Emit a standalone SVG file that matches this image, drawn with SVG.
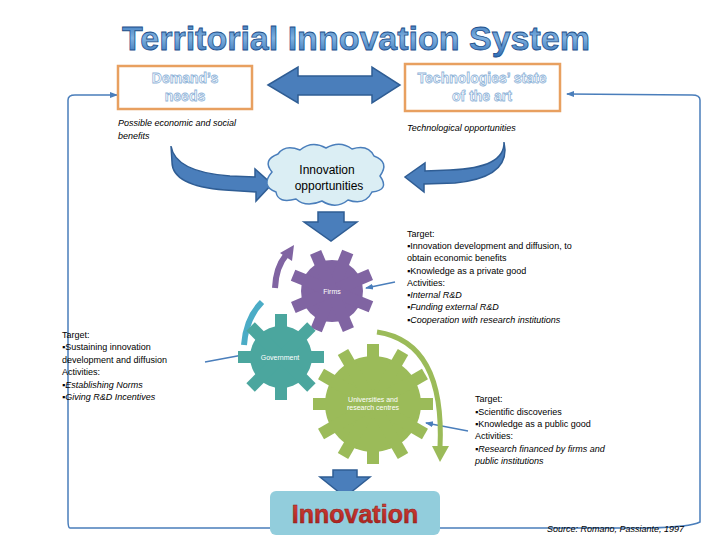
<svg xmlns="http://www.w3.org/2000/svg" xmlns:xlink="http://www.w3.org/1999/xlink" width="720" height="540" viewBox="0 0 720 540">
<defs>
<style>
.t{font-family:"Liberation Sans",Arial,sans-serif;font-size:9px;fill:#000}
.i{font-style:italic}
.big{fill:#4a7ebb;stroke:#2f5d94;stroke-width:1.5}
.ln{fill:none;stroke:#4a7ebb;stroke-width:1.5}
.hd{font-family:"Liberation Sans",Arial,sans-serif;font-weight:bold;font-size:14px;fill:#fff;stroke:#8fb4d9;stroke-width:0.8;text-anchor:middle}
.gl{font-family:"Liberation Sans",Arial,sans-serif;font-size:7px;fill:#fff;text-anchor:middle}
</style>
<marker id="ah" markerWidth="8" markerHeight="8" refX="7" refY="4" orient="auto" markerUnits="userSpaceOnUse"><path d="M0,1 L8,4 L0,7 Z" fill="#4a7ebb"/></marker>
<linearGradient id="tg" x1="0" y1="0" x2="0" y2="1"><stop offset="0" stop-color="#2e6db5"/><stop offset="0.5" stop-color="#7fb1e0"/><stop offset="1" stop-color="#2e6db5"/></linearGradient>
<linearGradient id="ig" x1="0" y1="0" x2="0" y2="1"><stop offset="0" stop-color="#d9443b"/><stop offset="1" stop-color="#a51e1a"/></linearGradient>
</defs>
<rect width="720" height="540" fill="#fff"/>
<text x="356" y="50" text-anchor="middle" font-family="Liberation Sans,Arial,sans-serif" font-weight="bold" font-size="34" fill="url(#tg)" stroke="#1e4f8a" stroke-width="0.8">Territorial Innovation System</text>

<g id="connectors">
<path class="ln" d="M270,528 L70,528 Q68,528 68,520 L68,100 Q68,95 75,95 L117,95" marker-end="url(#ah)"/>
<path class="ln" d="M440,528 L650,528 Q690,527 700,522 L700,100 Q700,95 692,95 L567,94" marker-end="url(#ah)"/>
<line x1="205" y1="362" x2="248" y2="354" stroke="#4a7ebb" stroke-width="1.5" marker-end="url(#ah)"/>
<line x1="395" y1="282" x2="366" y2="288" stroke="#4a7ebb" stroke-width="1.5" marker-end="url(#ah)"/>
<line x1="468" y1="431" x2="426" y2="423" stroke="#4a7ebb" stroke-width="1.5" marker-end="url(#ah)"/>
<path class="big" d="M268,85 L298,67 L298,76 L372,76 L372,67 L400,85 L372,103 L372,95 L298,95 L298,103 Z"/>
<path class="big" d="M171,146 Q175,172 230,176 L255,177 L255,169 L272,184 L256,201 L256,192 L225,190 Q172,186 172,162 Z"/>
<path class="big" d="M504,142 Q505,168 450,170 L425,171 L425,163 L405,177 L424,192 L424,184 L455,183 Q505,178 505,150 Z"/>
<path class="big" d="M318,212 L344,212 L344,222 L357,222 L331,241 L304,222 L318,222 Z"/>
<path class="big" d="M333,470 L357,470 L357,477 L370,477 L345,497 L320,477 L333,477 Z"/>
<path d="M275,288 Q276,266 287,254" fill="none" stroke="#8064a2" stroke-width="6"/>
<path d="M280,253 L294,245 L292,261 Z" fill="#8064a2"/>
<path d="M244,345 Q246,318 262,302" fill="none" stroke="#4bacc6" stroke-width="6"/>
<path d="M377,332 Q445,342 440,448" fill="none" stroke="#9bbb59" stroke-width="5"/>
<path d="M432,446 L440,462 L449,446 Z" fill="#9bbb59"/>
</g>

<g id="firms" fill="#8064a2">
<circle cx="332" cy="291" r="31"/>
<g transform="translate(332,291) rotate(22)"><rect x="-6" y="-42" width="12" height="84"/><rect x="-6" y="-42" width="12" height="84" transform="rotate(45)"/><rect x="-6" y="-42" width="12" height="84" transform="rotate(90)"/><rect x="-6" y="-42" width="12" height="84" transform="rotate(135)"/></g>
<text class="gl" x="332" y="294">Firms</text>
</g>
<g id="government" fill="#4ba69e">
<circle cx="281" cy="357" r="31"/>
<g transform="translate(281,357)"><rect x="-6" y="-43" width="12" height="86"/><rect x="-6" y="-43" width="12" height="86" transform="rotate(45)"/><rect x="-6" y="-43" width="12" height="86" transform="rotate(90)"/><rect x="-6" y="-43" width="12" height="86" transform="rotate(135)"/></g>
<text class="gl" x="280" y="360">Government</text>
</g>
<g id="universities" fill="#9bbb59">
<circle cx="373" cy="404" r="48"/>
<g transform="translate(373,404)"><rect x="-6" y="-60" width="12" height="120"/><rect x="-6" y="-60" width="12" height="120" transform="rotate(30)"/><rect x="-6" y="-60" width="12" height="120" transform="rotate(60)"/><rect x="-6" y="-60" width="12" height="120" transform="rotate(90)"/><rect x="-6" y="-60" width="12" height="120" transform="rotate(120)"/><rect x="-6" y="-60" width="12" height="120" transform="rotate(150)"/></g>
<text class="gl" x="373" y="402">Universities and</text>
<text class="gl" x="373" y="410">research centres</text>
</g>

<g id="demand">
<rect x="118" y="66" width="134" height="43" fill="#fff" stroke="#e8a060" stroke-width="2.5"/>
<text class="hd" x="185" y="83">Demand’s</text><text class="hd" x="185" y="101">needs</text>
</g>
<g id="tech">
<rect x="405" y="64" width="155" height="47" fill="#fff" stroke="#e8a060" stroke-width="2.5"/>
<text class="hd" x="482" y="83">Technologies’ state</text><text class="hd" x="482" y="101">of the art</text>
</g>
<text class="t i" x="118" y="126" font-size="10">Possible economic and social</text>
<text class="t i" x="118" y="139" font-size="10">benefits</text>
<text class="t i" x="407" y="131" font-size="10">Technological opportunities</text>

<g id="cloud">
<path d="M272,172 Q262,160 278,154 Q285,144 300,150 Q312,140 326,148 Q340,140 352,149 Q368,144 374,156 Q390,162 380,176 Q390,190 372,192 Q365,206 348,200 Q336,210 322,201 Q306,208 296,199 Q278,204 276,192 Q260,186 272,172 Z" fill="#dbeef4" stroke="#4a7ebb" stroke-width="1.5"/>
<text x="327" y="174" text-anchor="middle" font-family="Liberation Sans,Arial,sans-serif" font-size="12">Innovation</text>
<text x="329" y="190" text-anchor="middle" font-family="Liberation Sans,Arial,sans-serif" font-size="12">opportunities</text>
</g>

<g id="innovation">
<rect x="270" y="491" width="170" height="44" rx="6" fill="#92cddc"/>
<text x="355" y="523" text-anchor="middle" font-family="Liberation Sans,Arial,sans-serif" font-weight="bold" font-size="25" fill="url(#ig)" stroke="#8a1a16" stroke-width="0.5">Innovation</text>
</g>

<g class="t">
<text x="407" y="237">Target:</text>
<text x="407" y="249">▪Innovation development and diffusion, to</text>
<text x="407" y="261">obtain economic benefits</text>
<text x="407" y="274">▪Knowledge as a private good</text>
<text x="407" y="286">Activities:</text>
<text x="407" y="298">▪<tspan class="i">Internal R&amp;D</tspan></text>
<text x="407" y="310">▪<tspan class="i">Funding external R&amp;D</tspan></text>
<text x="407" y="323">▪<tspan class="i">Cooperation with research institutions</tspan></text>

<text x="62" y="338">Target:</text>
<text x="62" y="350">▪Sustaining innovation</text>
<text x="62" y="363">development and diffusion</text>
<text x="62" y="375">Activities:</text>
<text x="62" y="388">▪<tspan class="i">Establishing Norms</tspan></text>
<text x="62" y="400">▪<tspan class="i">Giving R&amp;D Incentives</tspan></text>

<text x="475" y="402">Target:</text>
<text x="475" y="415">▪Scientific discoveries</text>
<text x="475" y="427">▪Knowledge as a public good</text>
<text x="475" y="439">Activities:</text>
<text x="475" y="452">▪<tspan class="i">Research financed by firms and</tspan></text>
<text x="475" y="464" class="i">public institutions</text>
<text x="547" y="532" class="i">Source: Romano, Passiante, 1997</text>
</g>
</svg>
